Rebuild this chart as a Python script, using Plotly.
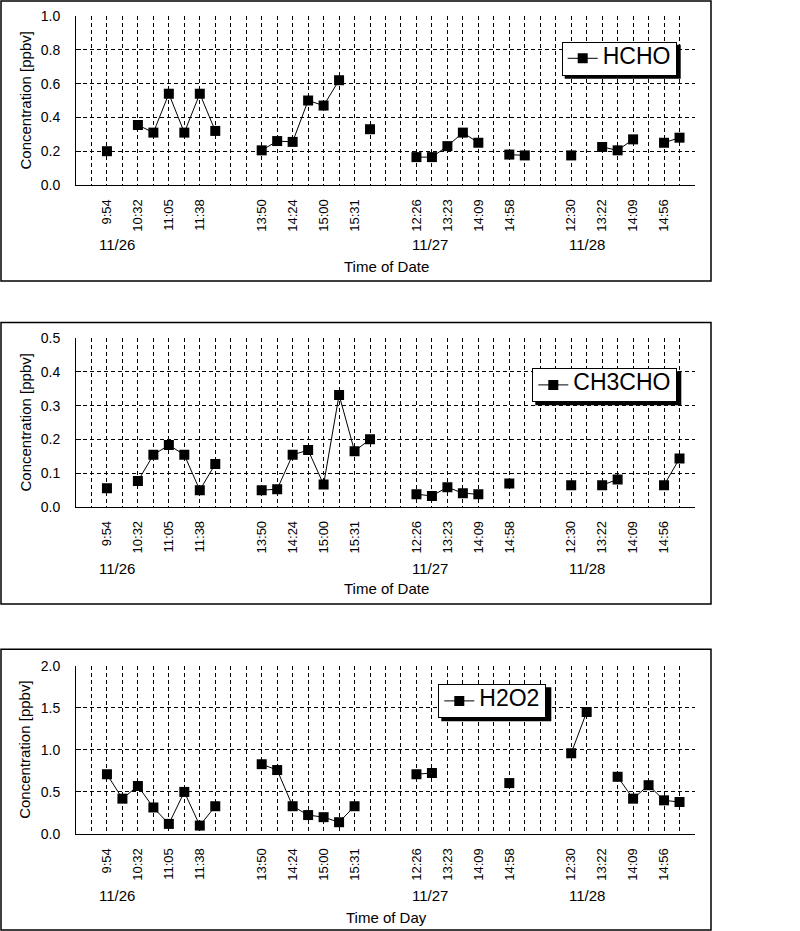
import plotly.graph_objects as go

# ---------------- data ----------------
# category index 0..38 ; None = no sample
N_CAT = 39
tick_pos = [1, 3, 5, 7, 11, 13, 15, 17, 21, 23, 25, 27, 31, 33, 35, 37]
tick_labels = ["9:54", "10:32", "11:05", "11:38",
               "13:50", "14:24", "15:00", "15:31",
               "12:26", "13:23", "14:09", "14:58",
               "12:30", "13:22", "14:09", "14:56"]
date_labels = ["11/26", "11/27", "11/28"]
date_pos = [1.65, 21.9, 32.0]

hcho = {1: 0.20, 3: 0.355, 4: 0.31, 5: 0.54, 6: 0.31, 7: 0.54, 8: 0.32,
        11: 0.205, 12: 0.26, 13: 0.255, 14: 0.50, 15: 0.47, 16: 0.62, 18: 0.33,
        21: 0.165, 22: 0.165, 23: 0.23, 24: 0.31, 25: 0.25, 27: 0.18, 28: 0.175,
        31: 0.175, 33: 0.225, 34: 0.205, 35: 0.27, 37: 0.25, 38: 0.28}
ch3cho = {1: 0.055, 3: 0.076, 4: 0.154, 5: 0.183, 6: 0.154, 7: 0.049, 8: 0.127,
          11: 0.049, 12: 0.052, 13: 0.154, 14: 0.168, 15: 0.066, 16: 0.332,
          17: 0.165, 18: 0.200,
          21: 0.037, 22: 0.032, 23: 0.058, 24: 0.040, 25: 0.037, 27: 0.069,
          31: 0.064, 33: 0.064, 34: 0.081, 37: 0.064, 38: 0.143}
h2o2 = {1: 0.71, 2: 0.42, 3: 0.57, 4: 0.315, 5: 0.12, 6: 0.50, 7: 0.10, 8: 0.33,
        11: 0.83, 12: 0.76, 13: 0.33, 14: 0.225, 15: 0.20, 16: 0.14, 17: 0.33,
        21: 0.71, 22: 0.725, 27: 0.605,
        31: 0.96, 32: 1.45, 34: 0.68, 35: 0.42, 36: 0.58, 37: 0.40, 38: 0.38}

series = [("HCHO", hcho, 1.0, 0.2, "Time of Date"),
          ("CH3CHO", ch3cho, 0.5, 0.1, "Time of Date"),
          ("H2O2", h2o2, 2.0, 0.5, "Time of Day")]

# ---------------- layout geometry (pixels) ----------------
W, H = 800, 931
FONT = "Liberation Sans"
plot_x = (76, 695)
plot_y = [(16, 185), (338.3, 506.7), (665.7, 834)]
frames = [(1, 1, 711, 281), (1, 322.5, 711, 604), (1, 649.3, 711, 930)]
legend_pos = [(561.7, 41.7), (532.3, 368.3), (438.3, 684.3)]
legend_size = [(116, 34), (146, 34), (110, 34)]
date_y = [244, 568, 895]
xtitle_y = [267, 588.3, 917]
ytitle_x = 25


def px(x):
    return x / W


def py(y):
    return 1 - y / H


fig = go.Figure()
shapes = []
annotations = []

for k, (name, data, ymax, dy, xtitle) in enumerate(series):
    sfx = "" if k == 0 else str(k + 1)
    xs = list(range(N_CAT))
    ys = [data.get(i) for i in xs]
    fig.add_trace(go.Scatter(
        x=xs, y=ys, name=f"<span style='font-size:23px'>{name}</span>",
        mode="lines+markers",
        line=dict(color="black", width=1),
        marker=dict(symbol="square", size=10, color="black"),
        connectgaps=False, showlegend=True,
        xaxis="x" + sfx, yaxis="y" + sfx,
        legend="legend" + sfx,
    ))
    y0, y1 = plot_y[k]
    yt = [round(dy * j, 3) for j in range(int(round(ymax / dy)) + 1)]
    fig.update_layout(**{
        "xaxis" + sfx: dict(
            domain=[px(plot_x[0]), px(plot_x[1])], anchor="y" + sfx,
            range=[-1, N_CAT], showline=True, linecolor="black", linewidth=1,
            tickmode="array", tickvals=tick_pos, ticktext=tick_labels,
            tickangle=-90, ticks="", ticklabelstandoff=8,
            tickfont=dict(family=FONT, size=13, color="black"),
            showgrid=False, zeroline=False, automargin=False,
            minor=dict(tickmode="array", tickvals=list(range(N_CAT)),
                       showgrid=True, gridcolor="black", gridwidth=1,
                       griddash="4px,3px", ticks=""),
        ),
        "yaxis" + sfx: dict(
            domain=[py(y1), py(y0)], anchor="x" + sfx,
            range=[0, ymax], showline=True, linecolor="black", linewidth=1,
            tickmode="array", tickvals=yt, ticktext=[f"{v:.1f}" for v in yt],
            ticks="inside", ticklen=5, tickcolor="black",
            ticklabelstandoff=12,
            tickfont=dict(family=FONT, size=14, color="black"),
            showgrid=False, zeroline=False, automargin=False,
            minor=dict(tickmode="array", tickvals=yt[1:-1],
                       showgrid=True, gridcolor="black", gridwidth=1,
                       griddash="4px,3px", ticks=""),
        ),
        "legend" + sfx: dict(
            x=px(legend_pos[k][0]), y=py(legend_pos[k][1]),
            xanchor="left", yanchor="top",
            bgcolor="white", bordercolor="black", borderwidth=1,
            font=dict(family=FONT, size=14, color="black"),
        ),
    })
    # frame
    fx0, fy0, fx1, fy1 = frames[k]
    shapes.append(dict(type="rect", xref="paper", yref="paper",
                       x0=px(fx0), x1=px(fx1), y0=py(fy1), y1=py(fy0),
                       line=dict(color="black", width=1.5), layer="below"))
    # legend shadow
    lx, ly = legend_pos[k]
    lw, lh = legend_size[k]
    shapes.append(dict(type="rect", xref="paper", yref="paper",
                       x0=px(lx + 3), x1=px(lx + lw + 3),
                       y0=py(ly + lh + 3), y1=py(ly + 3),
                       fillcolor="black", line=dict(width=0), layer="above"))
    # date labels
    for d, dp in zip(date_labels, date_pos):
        annotations.append(dict(text=d, x=dp, xref="x" + sfx,
                                y=py(date_y[k]), yref="paper",
                                showarrow=False, xanchor="center", yanchor="middle",
                                font=dict(family=FONT, size=15, color="black")))
    # axis titles
    annotations.append(dict(text=xtitle, x=px((plot_x[0] + plot_x[1]) / 2 + 0.5),
                            xref="paper", y=py(xtitle_y[k]), yref="paper",
                            showarrow=False, xanchor="center", yanchor="middle",
                            font=dict(family=FONT, size=15, color="black")))
    annotations.append(dict(text="Concentration [ppbv]", x=px(ytitle_x),
                            xref="paper", y=py((y0 + y1) / 2), yref="paper",
                            textangle=-90, showarrow=False,
                            xanchor="center", yanchor="middle",
                            font=dict(family=FONT, size=15, color="black")))

fig.update_layout(
    width=W, height=H, margin=dict(l=0, r=0, t=0, b=0, autoexpand=False),
    paper_bgcolor="white", plot_bgcolor="white", showlegend=True,
    shapes=shapes, annotations=annotations,
    font=dict(family=FONT, color="black"),
)

fig.write_html("out.html", config={"displayModeBar": False},
               post_script="document.body.style.margin='0px';"
                           "document.body.style.overflow='hidden';")
